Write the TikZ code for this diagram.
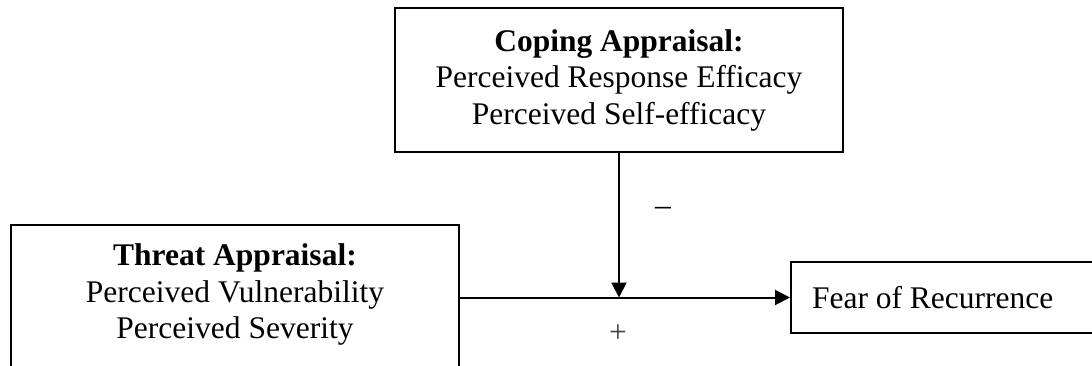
\documentclass[tikz,border=0pt]{standalone}
\usepackage{fontspec}
\setmainfont{Liberation Serif}
\usetikzlibrary{arrows.meta}

\begin{document}
\begin{tikzpicture}[x=0.4pt, y=-0.4pt,
	font=\fontsize{12.6}{14.6}\selectfont, line width=0.8pt, >={Triangle[length=6pt,width=6pt]}]
	\tikzstyle{appraisal} = [draw, rectangle, align=center, minimum width=179.2pt]
	\tikzstyle{outcome} = [draw, rectangle, text width=120pt, align=flush left, inner xsep=8.4pt, minimum height=28.4pt]
	\tikzstyle{sign} = [inner sep=0pt]
	\useasboundingbox (0, 0) rectangle (1092, 366);

	\path (619, 80) node[appraisal, minimum height=57.6pt] (coping) {\textbf{Coping Appraisal:}\\Perceived Response Efficacy\\Perceived Self-efficacy};
	\path (235, 224) node[appraisal, anchor=north, inner ysep=7.6pt, text depth=60pt] (threat) {\textbf{Threat Appraisal:}\\Perceived Vulnerability\\Perceived Severity};
	\path (790, 297.5) node[outcome, anchor=west] (fear) {Fear of Recurrence};
	\path (fear.west -| coping.south) coordinate (join);
	\path (663, 211) node[sign] (minus) {--};
	\path (618, 334) node[sign, text=black!75] (plus) {+};

	\path[draw, ->] (fear.west -| threat.east) -- (fear.west);
	\path[draw, ->] (coping.south) -- (join);
\end{tikzpicture}
\end{document}
